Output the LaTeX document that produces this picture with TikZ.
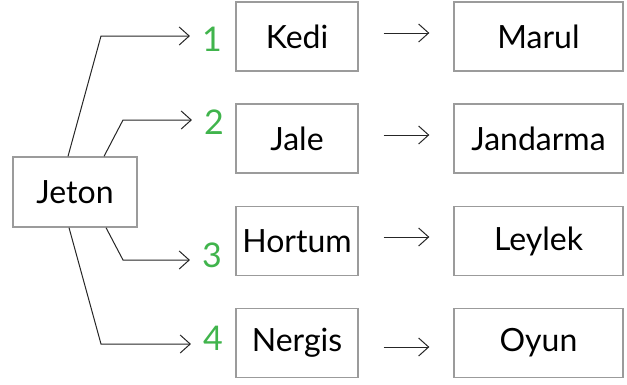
\documentclass[tikz,border=0pt]{standalone}
\usepackage{fontspec}
\setmainfont{Lato}
\usepackage{xcolor}
\usepackage{tikz}
\usetikzlibrary{arrows.meta}
\usetikzlibrary{positioning}

\definecolor{numgreen}{RGB}{64,180,76}
\definecolor{boxgray}{RGB}{155,155,155}

\tikzset{
  word/.style={draw=boxgray,line width=1.3pt,minimum width=122pt,minimum height=69pt,font=\fontsize{32}{36}\selectfont},
  answer/.style={word,minimum width=169pt},
  num/.style={text=numgreen,inner sep=0pt,font=\fontsize{34}{38}\selectfont},
  link/.style={-{Straight Barb[length=10pt,width=18pt]},line width=1pt,black!85},
}

\begin{document}
\begin{tikzpicture}[x=1pt,y=-1pt]
\useasboundingbox (0,0) rectangle (627,384);
\node[word,minimum width=124pt,minimum height=70pt] at (75,192) (jeton) {Jeton};
\node[word] at (297,36.5) (kedi) {Kedi};
\node[word] at (297,138.5) (jale) {Jale};
\node[word] at (297,241) (hortum) {Hortum};
\node[word] at (297,343) (nergis) {Nergis};
\node[answer] at (538.5,36.5) (marul) {Marul};
\node[answer] at (538.5,138.5) (jandarma) {Jandarma};
\node[answer] at (538.5,241) (leylek) {Leylek};
\node[answer] at (538.5,343) (oyun) {Oyun};
\node[num] at (212,39) (n1) {1};
\node[num] at (214,122) (n2) {2};
\node[num] at (212,255) (n3) {3};
\node[num] at (213,338) (n4) {4};
\coordinate (b1) at (101,36);
\coordinate (b2) at (123,120);
\coordinate (b3) at (123,260);
\coordinate (b4) at (101,344);
% from Jeton to the numbers
\draw[link,shorten >=12pt] ([xshift=-7pt]jeton.north) -- (b1) -- (b1 -| n1.west);
\draw[link,shorten >=12pt] ([xshift=29pt]jeton.north) -- (b2) -- (b2 -| n2.west);
\draw[link,shorten >=12pt] ([xshift=31pt]jeton.south) -- (b3) -- (b3 -| n3.west);
\draw[link,shorten >=12pt] ([xshift=-6pt]jeton.south) -- (b4) -- (b4 -| n4.west);
% middle arrows
\draw[link,shorten <=25pt,shorten >=24pt] ([yshift=3.5pt]kedi.east) -- ([yshift=3.5pt]marul.west);
\draw[link,shorten <=25pt,shorten >=24pt] ([yshift=3.5pt]jale.east) -- ([yshift=3.5pt]jandarma.west);
\draw[link,shorten <=25pt,shorten >=24pt] ([yshift=4pt]hortum.east) -- ([yshift=4pt]leylek.west);
\draw[link,shorten <=25pt,shorten >=24pt] ([yshift=-4pt]nergis.east) -- ([yshift=-4pt]oyun.west);
\end{tikzpicture}
\end{document}
